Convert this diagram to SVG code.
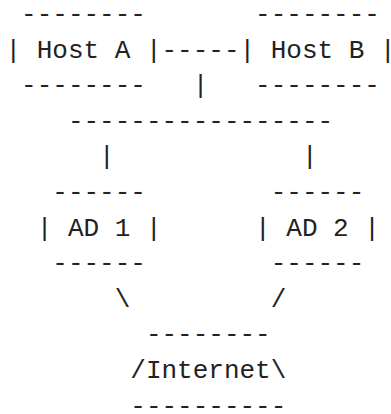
<svg xmlns="http://www.w3.org/2000/svg" width="391" height="414" viewBox="0 0 391 414">
<style>
text{font-family:"Liberation Mono","DejaVu Sans Mono",monospace;font-size:26px;fill:#222;white-space:pre}
</style>
<rect width="391" height="414" fill="#fff"/>
<g id="hostA">
<text x="21.1" y="22">--------</text>
<text x="5.5" y="57.6">| Host A |</text>
<text x="21.1" y="93.2">--------</text>
</g>
<g id="hostB">
<text x="255.1" y="22">--------</text>
<text x="239.5" y="57.6">| Host B |</text>
<text x="255.1" y="93.2">--------</text>
</g>
<g id="connectors">
<text x="161.5" y="57.6">-----</text>
<text x="192.7" y="93.2">|</text>
<text x="67.9" y="128.8">-----------------</text>
<text x="99.1" y="164.4">|</text>
<text x="301.9" y="164.4">|</text>
<text x="114.7" y="306.8">\</text>
<text x="270.7" y="306.8">/</text>
</g>
<g id="ad1">
<text x="52.3" y="200">------</text>
<text x="36.7" y="235.6">| AD 1 |</text>
<text x="52.3" y="271.2">------</text>
</g>
<g id="ad2">
<text x="270.7" y="200">------</text>
<text x="255.1" y="235.6">| AD 2 |</text>
<text x="270.7" y="271.2">------</text>
</g>
<g id="internet">
<text x="145.9" y="342.4">--------</text>
<text x="130.3" y="378">/Internet\</text>
<text x="130.3" y="413.6">----------</text>
</g>
</svg>
